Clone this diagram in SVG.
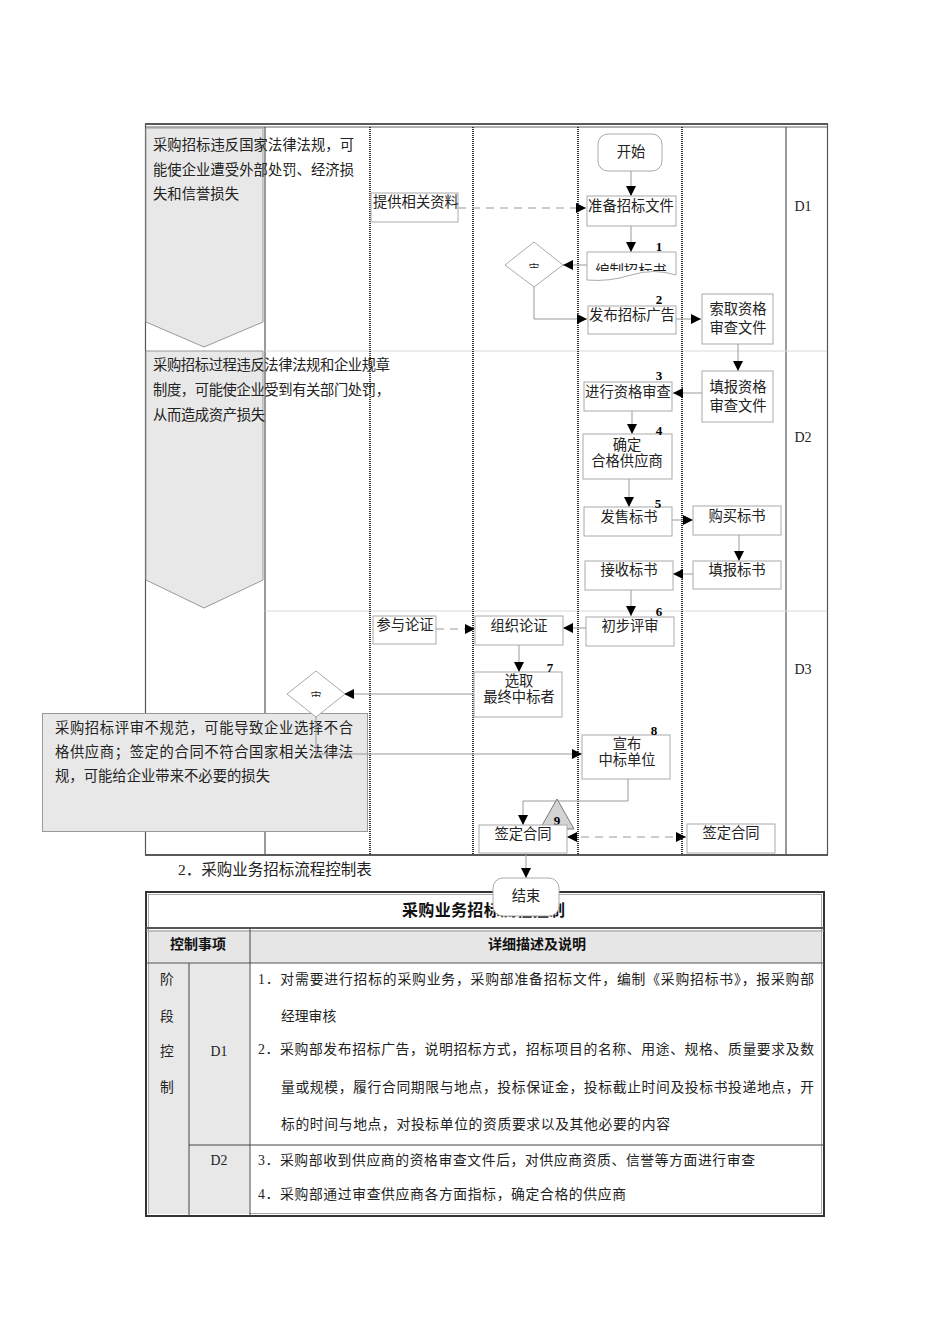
<svg xmlns="http://www.w3.org/2000/svg" width="950" height="1344" viewBox="0 0 950 1344">
<style>
.t{font-family:"Liberation Serif","Noto Sans CJK SC",serif;font-size:14.3px;fill:#222}
.c{text-anchor:middle}
.n{font-family:"Liberation Serif",serif;font-size:13px;font-weight:bold;fill:#000}
.box{fill:#fff;stroke:#aaa;stroke-width:1}
.ln{fill:none;stroke:#999;stroke-width:1}
.dl{fill:none;stroke:#999;stroke-width:1;stroke-dasharray:8,6}
.lane{stroke:#333;stroke-width:2;stroke-dasharray:1,1}
.risk{fill:#e8e8e8;stroke:#999;stroke-width:1}
.h{font-family:"Noto Sans CJK SC",sans-serif;font-size:14px;font-weight:bold;fill:#111}
.tb{font-family:"Liberation Serif","Noto Sans CJK SC",serif;font-size:13.8px;fill:#222}
</style>
<defs>
<marker id="ah" viewBox="0 0 10 10" refX="10" refY="5" markerWidth="10" markerHeight="10" markerUnits="userSpaceOnUse" orient="auto-start-reverse">
<path d="M0,0 L10,5 L0,10 z" fill="#000"/>
</marker>
<clipPath id="clipdoc"><rect x="580" y="250" width="100" height="21"/></clipPath>
<clipPath id="clipd1"><rect x="500" y="250" width="70" height="18"/></clipPath>
<clipPath id="clipd2"><rect x="280" y="680" width="70" height="17"/></clipPath>
</defs>

<!-- frame -->
<g id="frame">
<line x1="145" y1="124" x2="828" y2="124" stroke="#222" stroke-width="1.5"/>
<line x1="145" y1="127" x2="828" y2="127" stroke="#666" stroke-width="1"/>
<line x1="145" y1="855" x2="828" y2="855" stroke="#222" stroke-width="1.5"/>
<line x1="145.5" y1="124" x2="145.5" y2="855" stroke="#555" stroke-width="1.2"/>
<line x1="827.5" y1="124" x2="827.5" y2="855" stroke="#555" stroke-width="1.2"/>
<line x1="265" y1="127" x2="265" y2="855" stroke="#555" stroke-width="1.2"/>
<line x1="786" y1="127" x2="786" y2="855" stroke="#555" stroke-width="1.2"/>
<line x1="265" y1="351" x2="827" y2="351" stroke="#d8d8d8" stroke-width="1"/>
<line x1="265" y1="611" x2="827" y2="611" stroke="#d8d8d8" stroke-width="1"/>
<line class="lane" x1="370" y1="127" x2="370" y2="855"/>
<line class="lane" x1="473" y1="127" x2="473" y2="855"/>
<line class="lane" x1="578" y1="127" x2="578" y2="855"/>
<line class="lane" x1="682" y1="127" x2="682" y2="855"/>
<text class="t c" x="803" y="211" style="font-size:14px">D1</text>
<text class="t c" x="803" y="442" style="font-size:14px">D2</text>
<text class="t c" x="803" y="674" style="font-size:14px">D3</text>
</g>

<!-- risk annotations -->
<g id="risk1">
<path class="risk" d="M146,128 H263 V322 L204,347 L146,322 Z"/>
<text class="t" x="153" y="150" textLength="201" lengthAdjust="spacing">采购招标违反国家法律法规，可</text>
<text class="t" x="153" y="175" textLength="201" lengthAdjust="spacing">能使企业遭受外部处罚、经济损</text>
<text class="t" x="153" y="199" textLength="86" lengthAdjust="spacing">失和信誉损失</text>
</g>
<g id="risk2">
<path class="risk" d="M146,351 H263 V580 L204,608 L146,580 Z"/>
<text class="t" x="153" y="370" textLength="237" lengthAdjust="spacing">采购招标过程违反法律法规和企业规章</text>
<text class="t" x="153" y="395" textLength="237" lengthAdjust="spacing">制度，可能使企业受到有关部门处罚，</text>
<text class="t" x="153" y="420" textLength="112" lengthAdjust="spacing">从而造成资产损失</text>
</g>
<g id="risk3">
<rect class="risk" x="42.5" y="713.5" width="325" height="118"/>
<text class="t" x="55" y="733" textLength="298" lengthAdjust="spacing">采购招标评审不规范，可能导致企业选择不合</text>
<text class="t" x="55" y="757" textLength="298" lengthAdjust="spacing">格供应商；签定的合同不符合国家相关法律法</text>
<text class="t" x="55" y="781" textLength="215" lengthAdjust="spacing">规，可能给企业带来不必要的损失</text>
</g>

<!-- connectors -->
<g id="connectors">
<path class="ln" d="M631,171 V196" marker-end="url(#ah)"/>
<path class="dl" d="M458,208 H586" marker-end="url(#ah)"/>
<path class="ln" d="M631,226 V252" marker-end="url(#ah)"/>
<path class="ln" d="M587,265 H563" marker-end="url(#ah)"/>
<path class="ln" d="M534,287 V319 H587" marker-end="url(#ah)"/>
<path class="ln" d="M676,319 H701" marker-end="url(#ah)"/>
<path class="ln" d="M738,344 V371" marker-end="url(#ah)"/>
<path class="ln" d="M702,393 H673" marker-end="url(#ah)"/>
<path class="ln" d="M632,411 V434" marker-end="url(#ah)"/>
<path class="ln" d="M629,479 V507" marker-end="url(#ah)"/>
<path class="ln" d="M672,520 H693" marker-end="url(#ah)"/>
<path class="ln" d="M739,535 V561" marker-end="url(#ah)"/>
<path class="ln" d="M693,574 H673" marker-end="url(#ah)"/>
<path class="ln" d="M631,590 V616" marker-end="url(#ah)"/>
<path class="ln" d="M586,628 H563" marker-end="url(#ah)"/>
<path class="dl" d="M436,629 H475" marker-end="url(#ah)"/>
<path class="ln" d="M519,645 V672" marker-end="url(#ah)"/>
<path class="ln" d="M474,694 H344" marker-end="url(#ah)"/>
<path class="ln" d="M316,717 V754 H582" marker-end="url(#ah)"/>
<path class="ln" d="M628,779 V801 H523 V825" marker-end="url(#ah)"/>
<path class="dl" d="M567,837 H686" marker-start="url(#ah)" marker-end="url(#ah)"/>
<path class="ln" d="M526,853 V878" marker-end="url(#ah)"/>
</g>

<!-- nodes -->
<g id="n-start">
<rect class="box" x="598" y="134" width="64" height="37" rx="10"/>
<text class="t c" x="631" y="157">开始</text>
</g>
<g id="n-provide">
<rect class="box" x="371" y="193" width="87" height="29"/>
<text class="t" x="373" y="207">提供相关资料</text>
</g>
<g id="n-prepare">
<rect class="box" x="587" y="196" width="89" height="30"/>
<text class="t c" x="631" y="211">准备招标文件</text>
</g>
<g id="n-compile">
<path class="box" d="M587,252 H676 V275 Q654,268 631,275 Q609,282 587,280 Z"/>
<text class="t c" x="631" y="276" clip-path="url(#clipdoc)">编制招标书</text>
<text class="n c" x="659" y="251">1</text>
</g>
<g id="n-review1">
<path class="box" d="M534,242 L563,265 L534,287 L505,265 Z"/>
<text class="t c" x="534" y="273" style="font-size:11px" clip-path="url(#clipd1)">审</text>
</g>
<g id="n-publish">
<rect class="box" x="588" y="306" width="88" height="28"/>
<text class="t c" x="632" y="320">发布招标广告</text>
<text class="n c" x="659" y="304">2</text>
</g>
<g id="n-request">
<rect class="box" x="702" y="294" width="71" height="50"/>
<text class="t c" x="738" y="314">索取资格</text>
<text class="t c" x="738" y="333">审查文件</text>
</g>
<g id="n-fillqual">
<rect class="box" x="702" y="371" width="71" height="51"/>
<text class="t c" x="738" y="392">填报资格</text>
<text class="t c" x="738" y="411">审查文件</text>
</g>
<g id="n-qualify">
<rect class="box" x="584" y="382" width="88" height="29"/>
<text class="t c" x="628" y="397">进行资格审查</text>
<text class="n c" x="659" y="380">3</text>
</g>
<g id="n-confirm">
<rect class="box" x="583" y="434" width="89" height="45"/>
<text class="t c" x="627" y="450">确定</text>
<text class="t c" x="627" y="466">合格供应商</text>
<text class="n c" x="659" y="435">4</text>
</g>
<g id="n-sell">
<rect class="box" x="584" y="507" width="88" height="29"/>
<text class="t c" x="629" y="522">发售标书</text>
<text class="n c" x="658" y="508">5</text>
</g>
<g id="n-buy">
<rect class="box" x="693" y="506" width="88" height="29"/>
<text class="t c" x="737" y="521">购买标书</text>
</g>
<g id="n-fillbid">
<rect class="box" x="693" y="561" width="88" height="28"/>
<text class="t c" x="737" y="575">填报标书</text>
</g>
<g id="n-receive">
<rect class="box" x="585" y="561" width="88" height="29"/>
<text class="t c" x="629" y="575">接收标书</text>
</g>
<g id="n-prelim">
<rect class="box" x="586" y="617" width="88" height="29"/>
<text class="t c" x="630" y="631">初步评审</text>
<text class="n c" x="659" y="616">6</text>
</g>
<g id="n-organize">
<rect class="box" x="475" y="616" width="88" height="29"/>
<text class="t c" x="519" y="631">组织论证</text>
</g>
<g id="n-join">
<rect class="box" x="373" y="616" width="63" height="28"/>
<text class="t c" x="405" y="630">参与论证</text>
</g>
<g id="n-select">
<rect class="box" x="474" y="672" width="88" height="45"/>
<text class="t c" x="519" y="686">选取</text>
<text class="t c" x="519" y="702">最终中标者</text>
<text class="n c" x="550" y="672">7</text>
</g>
<g id="n-review2">
<path class="box" d="M316,671 L345,694 L316,717 L287,694 Z"/>
<text class="t c" x="316" y="701" style="font-size:11px" clip-path="url(#clipd2)">审</text>
</g>
<g id="n-announce">
<rect class="box" x="582" y="735" width="88" height="44"/>
<text class="t c" x="627" y="749">宣布</text>
<text class="t c" x="627" y="765">中标单位</text>
<text class="n c" x="654" y="735">8</text>
</g>
<g id="n-tri9">
<path d="M557,799 L574,829 L540,829 Z" fill="#d4d4d4" stroke="#777" stroke-width="1"/>
<text class="n c" x="557" y="825">9</text>
</g>
<g id="n-sign1">
<rect class="box" x="479" y="825" width="88" height="28"/>
<text class="t c" x="523" y="839">签定合同</text>
</g>
<g id="n-sign2">
<rect class="box" x="687" y="824" width="88" height="29"/>
<text class="t c" x="731" y="838">签定合同</text>
</g>

<!-- table -->
<g id="table">
<text class="t" x="178" y="875" style="font-size:15.5px">2．采购业务招标流程控制表</text>
<rect x="146" y="892" width="678" height="324" fill="#fff" stroke="#333" stroke-width="2"/>
<rect x="148.5" y="894.5" width="673" height="319" fill="none" stroke="#aaa" stroke-width="1"/>
<rect x="149" y="930" width="672" height="33" fill="#e6e6e6"/>
<rect x="149" y="963" width="100" height="251" fill="#e8e8e8"/>
<line x1="146" y1="928" x2="824" y2="928" stroke="#555" stroke-width="2"/>
<line x1="146" y1="931" x2="824" y2="931" stroke="#999" stroke-width="1"/>
<line x1="146" y1="963" x2="824" y2="963" stroke="#555" stroke-width="1"/>
<line x1="250" y1="928" x2="250" y2="1216" stroke="#444" stroke-width="1"/>
<line x1="189" y1="963" x2="189" y2="1216" stroke="#444" stroke-width="1"/>
<line x1="189" y1="1145" x2="824" y2="1145" stroke="#444" stroke-width="1"/>
<text class="h" x="402" y="916" style="font-size:16px" textLength="163" lengthAdjust="spacing">采购业务招标流程控制</text>
<text class="h c" x="198" y="949">控制事项</text>
<text class="h c" x="537" y="949">详细描述及说明</text>
<text class="tb c" x="167" y="984">阶</text>
<text class="tb c" x="167" y="1021">段</text>
<text class="tb c" x="167" y="1056">控</text>
<text class="tb c" x="167" y="1092">制</text>
<text class="tb c" x="219" y="1056">D1</text>
<text class="tb c" x="219" y="1165">D2</text>
<text class="tb" x="258" y="984" textLength="556" lengthAdjust="spacing">1．对需要进行招标的采购业务，采购部准备招标文件，编制《采购招标书》，报采购部</text>
<text class="tb" x="281" y="1021">经理审核</text>
<text class="tb" x="258" y="1054" textLength="556" lengthAdjust="spacing">2．采购部发布招标广告，说明招标方式，招标项目的名称、用途、规格、质量要求及数</text>
<text class="tb" x="281" y="1092" textLength="533" lengthAdjust="spacing">量或规模，履行合同期限与地点，投标保证金，投标截止时间及投标书投递地点，开</text>
<text class="tb" x="281" y="1129" textLength="389" lengthAdjust="spacing">标的时间与地点，对投标单位的资质要求以及其他必要的内容</text>
<text class="tb" x="258" y="1165" textLength="497" lengthAdjust="spacing">3．采购部收到供应商的资格审查文件后，对供应商资质、信誉等方面进行审查</text>
<text class="tb" x="258" y="1199" textLength="368" lengthAdjust="spacing">4．采购部通过审查供应商各方面指标，确定合格的供应商</text>
</g>

<g id="n-end">
<rect class="box" x="493" y="878" width="66" height="38" rx="10"/>
<text class="t c" x="526" y="901">结束</text>
</g>
</svg>
